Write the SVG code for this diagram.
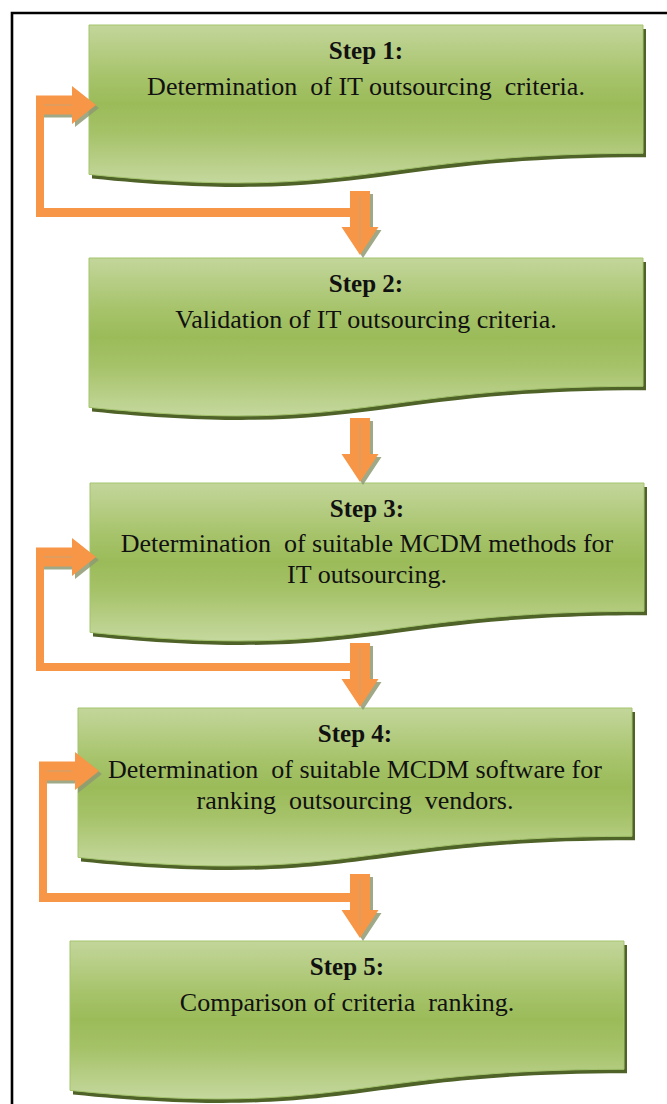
<svg xmlns="http://www.w3.org/2000/svg" xmlns:xlink="http://www.w3.org/1999/xlink" width="667" height="1104" viewBox="0 0 667 1104">
  <style>
    .frame { fill: none; stroke: #000; stroke-width: 2.6; }
    .box { fill: url(#boxFill); stroke: #a3c46c; stroke-width: 1; }
    .boxShade { fill: #4f6228; }
    .head { font-family: "Liberation Serif", "Times New Roman", serif; font-size: 25px; font-weight: bold; fill: #111; text-anchor: middle; }
    .body { font-family: "Liberation Serif", "Times New Roman", serif; font-size: 26px; fill: #111; text-anchor: middle; white-space: pre; }
    .arrow { fill: #f79646; }
    .arrowShade { fill: #8e9a72; opacity: 0.85; }
    .loop { fill: #f79646; }
    .spine { stroke: #c7a577; stroke-width: 1.2; opacity: 0.8; }
  </style>
  <defs>
    <linearGradient id="boxFill" x1="0" y1="0" x2="0" y2="1">
      <stop offset="0" stop-color="#c3d69b"/>
      <stop offset="0.33" stop-color="#a6c36a"/>
      <stop offset="0.5" stop-color="#9bbb59"/>
      <stop offset="0.68" stop-color="#a5c268"/>
      <stop offset="1" stop-color="#c5d89e"/>
    </linearGradient>
    <!-- wavy-bottom document shape, 554 x 160 -->
    <path id="doc" d="M0,0 H554 V128.3 C277,128.3 277,177.2 0,149.4 Z"/>
    <!-- block arrow pointing right: tail at 0, tip at 60, centred on y=0 -->
    <path id="arrowRight" d="M0,-9.5 H36 V-19 L60,0 L36,19 V9.5 H0 Z"/>
    <!-- block arrow pointing down: top at 0, tip at 64, centred on x=0 -->
    <path id="arrowDown" d="M-10,0 H10 V36 H18.5 L0,64 L-18.5,36 H-10 Z"/>
  </defs>

  <!-- outer frame -->
  <path class="frame" d="M12,1106 V13 H669"/>

  <!-- steps -->
  <g id="step1">
    <use xlink:href="#doc" href="#doc" class="boxShade" x="92" y="29"/>
    <use xlink:href="#doc" href="#doc" class="box" x="89" y="25"/>
    <text class="head" x="366" y="59">Step 1:</text>
    <text class="body" x="366" y="95">Determination  of IT outsourcing  criteria.</text>
  </g>

  <g id="step2">
    <use xlink:href="#doc" href="#doc" class="boxShade" x="92" y="262"/>
    <use xlink:href="#doc" href="#doc" class="box" x="89" y="258"/>
    <text class="head" x="366" y="292">Step 2:</text>
    <text class="body" x="366" y="328">Validation of IT outsourcing criteria.</text>
  </g>

  <g id="step3">
    <use xlink:href="#doc" href="#doc" class="boxShade" x="93" y="487"/>
    <use xlink:href="#doc" href="#doc" class="box" x="90" y="483"/>
    <text class="head" x="367" y="517">Step 3:</text>
    <text class="body" x="367" y="552">Determination  of suitable MCDM methods for</text>
    <text class="body" x="367" y="583">IT outsourcing.</text>
  </g>

  <g id="step4">
    <use xlink:href="#doc" href="#doc" class="boxShade" x="81" y="712"/>
    <use xlink:href="#doc" href="#doc" class="box" x="78" y="708"/>
    <text class="head" x="355" y="742">Step 4:</text>
    <text class="body" x="355" y="778">Determination  of suitable MCDM software for</text>
    <text class="body" x="355" y="809">ranking  outsourcing  vendors.</text>
  </g>

  <g id="step5">
    <use xlink:href="#doc" href="#doc" class="boxShade" x="73" y="945"/>
    <use xlink:href="#doc" href="#doc" class="box" x="70" y="941"/>
    <text class="head" x="347" y="975">Step 5:</text>
    <text class="body" x="347" y="1011">Comparison of criteria  ranking.</text>
  </g>

  <!-- connectors -->
  <g id="connectors">
    <!-- feedback loop around step 1 -->
    <use xlink:href="#arrowRight" href="#arrowRight" class="arrowShade" transform="translate(39,108)"/>
    <use xlink:href="#arrowRight" href="#arrowRight" class="arrow" transform="translate(36,105)"/>
    <rect class="loop" x="36" y="96" width="8" height="121"/>
    <rect class="loop" x="36" y="208" width="316" height="9"/>
    <line class="spine" x1="44" y1="105" x2="72" y2="105"/>

    <!-- step 1 to step 2 -->
    <use xlink:href="#arrowDown" href="#arrowDown" class="arrowShade" transform="translate(363,194)"/>
    <use xlink:href="#arrowDown" href="#arrowDown" class="arrow" transform="translate(360,191)"/>
    <line class="spine" x1="360" y1="196" x2="360" y2="245"/>

    <!-- step 2 to step 3 -->
    <use xlink:href="#arrowDown" href="#arrowDown" class="arrowShade" transform="translate(363,421)"/>
    <use xlink:href="#arrowDown" href="#arrowDown" class="arrow" transform="translate(360,418)"/>
    <line class="spine" x1="360" y1="423" x2="360" y2="470"/>

    <!-- feedback loop around step 3 -->
    <use xlink:href="#arrowRight" href="#arrowRight" class="arrowShade" transform="translate(39,560)"/>
    <use xlink:href="#arrowRight" href="#arrowRight" class="arrow" transform="translate(36,557)"/>
    <rect class="loop" x="36" y="548" width="8" height="123"/>
    <rect class="loop" x="36" y="663" width="316" height="8"/>
    <line class="spine" x1="44" y1="557" x2="72" y2="557"/>

    <!-- step 3 to step 4 -->
    <use xlink:href="#arrowDown" href="#arrowDown" class="arrowShade" transform="translate(363,646)"/>
    <use xlink:href="#arrowDown" href="#arrowDown" class="arrow" transform="translate(360,643)"/>
    <line class="spine" x1="360" y1="648" x2="360" y2="695"/>

    <!-- feedback loop around step 4 -->
    <use xlink:href="#arrowRight" href="#arrowRight" class="arrowShade" transform="translate(42,774)"/>
    <use xlink:href="#arrowRight" href="#arrowRight" class="arrow" transform="translate(39,771)"/>
    <rect class="loop" x="39" y="762" width="8" height="140"/>
    <rect class="loop" x="39" y="893" width="313" height="9"/>
    <line class="spine" x1="47" y1="771" x2="72" y2="771"/>

    <!-- step 4 to step 5 -->
    <use xlink:href="#arrowDown" href="#arrowDown" class="arrowShade" transform="translate(363,877)"/>
    <use xlink:href="#arrowDown" href="#arrowDown" class="arrow" transform="translate(360,874)"/>
    <line class="spine" x1="360" y1="879" x2="360" y2="926"/>
  </g>
</svg>
